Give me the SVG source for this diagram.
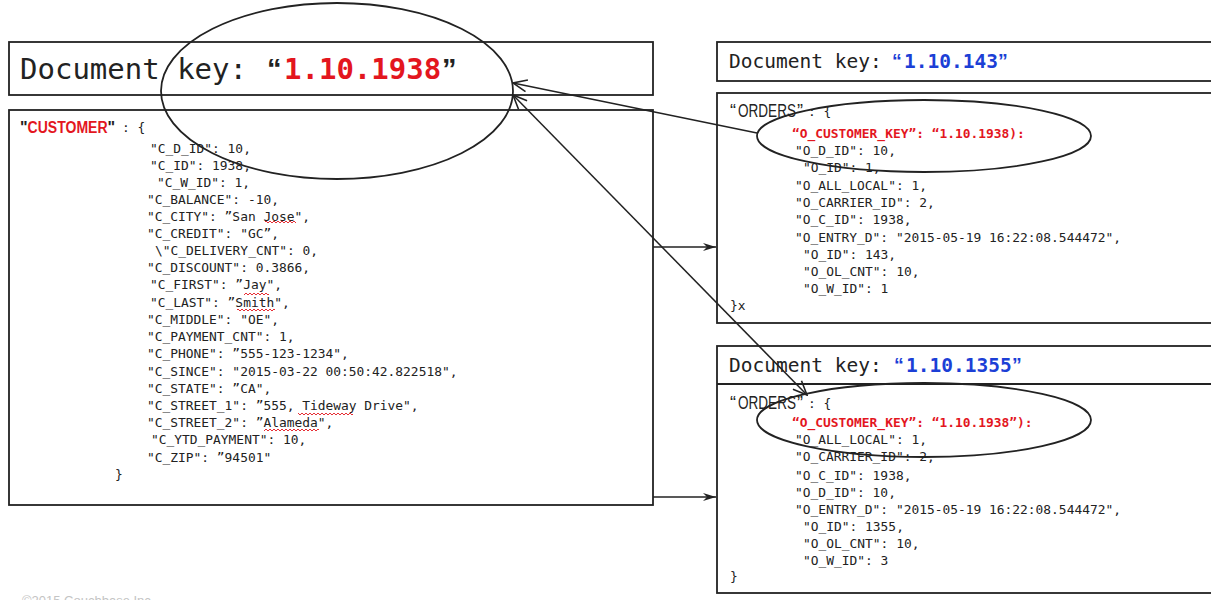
<svg xmlns="http://www.w3.org/2000/svg" width="1211" height="600" viewBox="0 0 1211 600">
<style>
.box{fill:none;stroke:#222;stroke-width:1.8}
.m{font-family:"DejaVu Sans Mono","Liberation Mono",monospace;font-size:12.9px;fill:#222}
.s{font-family:"Liberation Sans",Arial,sans-serif}
.red{fill:#e3161e}
.blue{fill:#1c3fd6}
.key{font-family:"DejaVu Sans Mono","Liberation Mono",monospace;fill:#222}
.conn{fill:none;stroke:#222;stroke-width:1.5}
.oval{fill:none;stroke:#222;stroke-width:1.8}
</style>
<defs>
<marker id="dart" markerWidth="14" markerHeight="10" refX="13" refY="5" orient="auto" markerUnits="userSpaceOnUse">
<path d="M0,1 L13,5 L0,9 L4,5 Z" fill="#222"/>
</marker>
<marker id="vee" markerWidth="16" markerHeight="14" refX="15" refY="7" orient="auto-start-reverse" markerUnits="userSpaceOnUse">
<path d="M1,1 L15,7 L1,13" fill="none" stroke="#222" stroke-width="1.6"/>
</marker>
<pattern id="wave" width="4" height="4" patternUnits="userSpaceOnUse">
<path d="M0,3 L2,1 L4,3" fill="none" stroke="#e3161e" stroke-width="0.9"/>
</pattern>
</defs>
<rect width="1211" height="600" fill="#fff"/>

<g id="customer-key">
<rect class="box" x="9" y="42" width="644" height="53"/>
<text class="key" x="20" y="79" font-size="29px">Document key: <tspan class="s" font-weight="bold" x="267">“</tspan><tspan class="red" font-weight="bold" x="284">1.10.1938</tspan><tspan class="s" font-weight="bold" x="442">”</tspan></text>
</g>

<g id="customer-doc">
<rect class="box" x="9" y="110" width="644" height="395"/>
<text x="20" y="133" class="s" font-weight="bold" font-size="16px" fill="#222">"<tspan class="red" textLength="80" lengthAdjust="spacingAndGlyphs">CUSTOMER</tspan>"<tspan class="m" font-weight="normal" x="122" dy="-1">: {</tspan></text>
<text class="m" x="150" y="152.5">"C_D_ID": 10,</text>
<text class="m" x="150" y="169.5">"C_ID": 1938,</text>
<text class="m" x="157" y="186.5">"C_W_ID": 1,</text>
<text class="m" x="147" y="203.5">"C_BALANCE": -10,</text>
<text class="m" x="147" y="220.5">"C_CITY": ”San Jose",</text>
<text class="m" x="147" y="237.5">"C_CREDIT": "GC”,</text>
<text class="m" x="155" y="254.5">\"C_DELIVERY_CNT": 0,</text>
<text class="m" x="147" y="271.5">"C_DISCOUNT": 0.3866,</text>
<text class="m" x="150" y="289">"C_FIRST": ”Jay",</text>
<text class="m" x="150" y="306.5">"C_LAST": ”Smith",</text>
<text class="m" x="147" y="324">"C_MIDDLE": "OE",</text>
<text class="m" x="147" y="341">"C_PAYMENT_CNT": 1,</text>
<text class="m" x="147" y="358">"C_PHONE": ”555-123-1234",</text>
<text class="m" x="147" y="375.5">"C_SINCE": "2015-03-22 00:50:42.822518",</text>
<text class="m" x="147" y="392.5">"C_STATE": ”CA",</text>
<text class="m" x="147" y="410">"C_STREET_1": ”555, Tideway Drive",</text>
<text class="m" x="147" y="426.5">"C_STREET_2": ”Alameda",</text>
<text class="m" x="151" y="444">"C_YTD_PAYMENT": 10,</text>
<text class="m" x="147" y="461.5">"C_ZIP": ”94501"</text>
<text class="m" x="115" y="479">}</text>
<rect x="265" y="220" width="31" height="4" fill="url(#wave)"/>
<rect x="244" y="292" width="25" height="4" fill="url(#wave)"/>
<rect x="237" y="308" width="38" height="4" fill="url(#wave)"/>
<rect x="298" y="412" width="55" height="4" fill="url(#wave)"/>
<rect x="264" y="428" width="55" height="4" fill="url(#wave)"/>
</g>

<g id="order-143-key">
<rect class="box" x="717" y="42" width="510" height="39"/>
<text class="key" x="729" y="68" font-size="19.5px">Document key: <tspan class="s blue" font-weight="bold" x="892">“</tspan><tspan class="blue" font-weight="bold" x="904">1.10.143</tspan><tspan class="s blue" font-weight="bold" x="998">”</tspan></text>
</g>

<g id="order-143-doc">
<rect class="box" x="717" y="93" width="510" height="230"/>
<text x="730" y="117" class="s" font-size="18px" fill="#222">“<tspan x="738" textLength="58" lengthAdjust="spacingAndGlyphs">ORDERS</tspan><tspan x="797">”</tspan><tspan class="m" x="808" dy="-1">: {</tspan></text>
<text class="m red" x="792" y="138" font-size="14.6px" font-weight="bold">“O_CUSTOMER_KEY”: “1.10.1938):</text>
<text class="m" x="795" y="154.5">"O_D_ID": 10,</text>
<text class="m" x="803" y="171.5">"O_ID": 1,</text>
<text class="m" x="795" y="189.5">"O_ALL_LOCAL": 1,</text>
<text class="m" x="795" y="206.5">"O_CARRIER_ID": 2,</text>
<text class="m" x="795" y="223.5">"O_C_ID": 1938,</text>
<text class="m" x="795" y="241.5">"O_ENTRY_D": "2015-05-19 16:22:08.544472",</text>
<text class="m" x="803" y="258.5">"O_ID": 143,</text>
<text class="m" x="803" y="275.5">"O_OL_CNT": 10,</text>
<text class="m" x="803" y="292.5">"O_W_ID": 1</text>
<text class="m" x="730" y="310">}x</text>
</g>

<g id="order-1355">
<rect class="box" x="717" y="346" width="510" height="247"/>
<line class="box" x1="717" y1="384" x2="1211" y2="384"/>
<text class="key" x="729" y="372" font-size="19.5px">Document key: <tspan class="s blue" font-weight="bold" x="894">“</tspan><tspan class="blue" font-weight="bold" x="906">1.10.1355</tspan><tspan class="s blue" font-weight="bold" x="1012">”</tspan></text>
<text x="730" y="409" class="s" font-size="18px" fill="#222">“<tspan x="738" textLength="58" lengthAdjust="spacingAndGlyphs">ORDERS</tspan><tspan x="797">”</tspan><tspan class="m" x="808" dy="-1">: {</tspan></text>
<text class="m red" x="792" y="426.5" font-weight="bold">“O_CUSTOMER_KEY”: “1.10.1938”):</text>
<text class="m" x="795" y="443.5">"O_ALL_LOCAL": 1,</text>
<text class="m" x="795" y="461">"O_CARRIER_ID": 2,</text>
<text class="m" x="795" y="479.5">"O_C_ID": 1938,</text>
<text class="m" x="795" y="496.5">"O_D_ID": 10,</text>
<text class="m" x="795" y="513.5">"O_ENTRY_D": "2015-05-19 16:22:08.544472",</text>
<text class="m" x="803" y="530.5">"O_ID": 1355,</text>
<text class="m" x="803" y="547.5">"O_OL_CNT": 10,</text>
<text class="m" x="803" y="564.5">"O_W_ID": 3</text>
<text class="m" x="730" y="581">}</text>
</g>

<g id="highlights">
<ellipse class="oval" cx="337" cy="91" rx="176" ry="88"/>
<ellipse class="oval" cx="924" cy="136" rx="167" ry="36"/>
<ellipse class="oval" cx="924" cy="420" rx="167" ry="37"/>
</g>

<g id="connectors">
<line class="conn" x1="653" y1="247" x2="716" y2="247" marker-end="url(#dart)"/>
<line class="conn" x1="653" y1="497" x2="716" y2="497" marker-end="url(#dart)"/>
<line class="conn" x1="757" y1="133" x2="513" y2="83" marker-end="url(#vee)"/>
<line class="conn" x1="807" y1="395" x2="513" y2="95" marker-start="url(#vee)" marker-end="url(#vee)"/>
</g>

<text x="22" y="605" class="s" font-size="13px" fill="#c4c4c4">©2015 Couchbase Inc.</text>
</svg>
